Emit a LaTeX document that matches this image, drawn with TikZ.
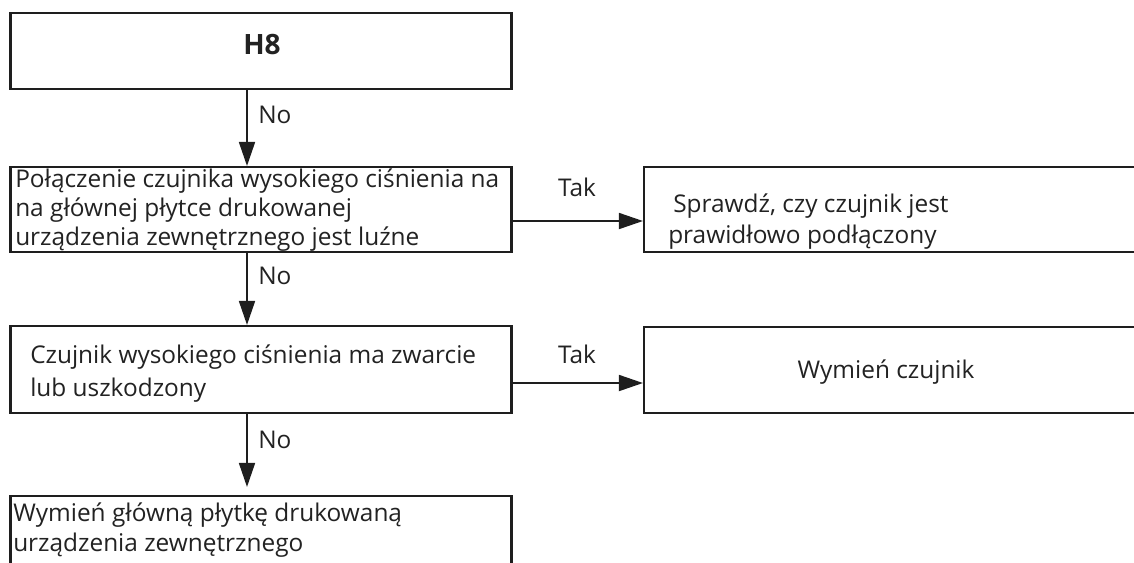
\documentclass[tikz,border=0pt]{standalone}
\usepackage{fontspec}
\setmainfont{Open Sans}
\usetikzlibrary{arrows.meta,calc}
\definecolor{ink}{HTML}{1E1E1E}
\definecolor{txt}{HTML}{222222}
\begin{document}
\begin{tikzpicture}[x=0.75pt,y=-0.75pt,
  box/.style={draw=ink,line width=1.6pt,rectangle,inner sep=0pt},
  txtline/.style={anchor=base west,inner sep=0pt,text=txt,font=\fontsize{18.3pt}{22pt}\selectfont},
  midtxt/.style={anchor=base,inner sep=0pt,text=txt,font=\fontsize{18.3pt}{22pt}\selectfont},
  lbl/.style={txtline},
  flow/.style={draw=ink,line width=1.3pt,-{Triangle[length=18pt,width=12pt]}}]
\useasboundingbox (0,0) rectangle (1134,562);
\clip (0,0) rectangle (1134,562);

% left column of boxes
\node[box,minimum width=375.75pt,minimum height=57.2pt] (h8) at (261,50.9) {};
\node[box,minimum width=375.75pt,minimum height=63.4pt] (q1) at (261,209.3) {};
\node[box,minimum width=375.75pt,minimum height=65.25pt] (q2) at (261,369.5) {};
\node[box,minimum width=375.75pt,minimum height=78pt] (q3) at (261,548) {};
% right column of boxes (running off the right edge)
\node[box,minimum width=387pt,minimum height=63.4pt] (r1) at (902,209.3) {};
\node[box,minimum width=387pt,minimum height=64.5pt] (r2) at (902,370) {};

% box texts
\node[anchor=center,inner sep=0pt,text=txt,font=\fontsize{21pt}{25pt}\selectfont\bfseries] (t0) at (262,44.5) {H8};
\node[txtline] (t1a) at (15,187) {Połączenie czujnika wysokiego ciśnienia na};
\node[txtline] (t1b) at (15,216) {na głównej płytce drukowanej};
\node[txtline] (t1c) at (15,245) {urządzenia zewnętrznego jest luźne};
\node[txtline] (t2a) at (30,363) {Czujnik wysokiego ciśnienia ma zwarcie};
\node[txtline] (t2b) at (30,396) {lub uszkodzony};
\node[txtline] (t3a) at (13,521.5) {Wymień główną płytkę drukowaną};
\node[txtline] (t3b) at (13,551.5) {urządzenia zewnętrznego};
\node[txtline] (s1a) at (673,212) {Sprawdź, czy czujnik jest};
\node[txtline] (s1b) at (668,243.5) {prawidłowo podłączony};
\node[midtxt] (s2) at (886,378) {Wymień czujnik};

% connectors
\draw[flow] ($(h8.south)+(-14,0)$) -- ($(q1.north)+(-14,0)$);
\draw[flow] ($(q1.south)+(-14,0)$) -- ($(q2.north)+(-14,0)$);
\draw[flow] ($(q2.south)+(-14,0)$) -- ($(q3.north)+(-14,-8)$);
\draw[flow] ($(q1.east)+(0,11.7)$) -- ($(r1.west)+(0,11.7)$);
\draw[flow] ($(q2.east)+(0,13.5)$) -- ($(r2.west)+(0,13)$);

% connector labels
\node[lbl] (n1) at (258,123) {No};
\node[lbl] (n2) at (258,284) {No};
\node[lbl] (n3) at (258,448) {No};
\node[midtxt] (y1) at (577,196) {Tak};
\node[midtxt] (y2) at (577,363) {Tak};
\end{tikzpicture}
\end{document}
